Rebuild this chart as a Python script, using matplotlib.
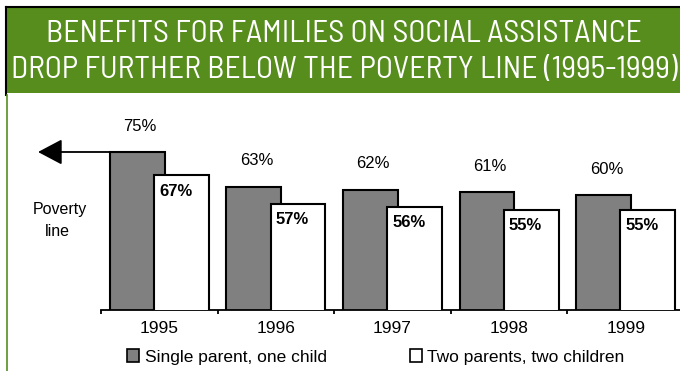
import numpy as np
import matplotlib
matplotlib.use("Agg")
import matplotlib.pyplot as plt
from matplotlib.patches import Rectangle, Patch
from matplotlib.lines import Line2D

plt.rcParams['font.family'] = ['Liberation Sans', 'DejaVu Sans']

# data
years = ['1995', '1996', '1997', '1998', '1999']
single_parent = [75, 63, 62, 61, 60]
two_parents = [67, 57, 56, 55, 55]
series_names = ['Single parent, one child', 'Two parents, two children']
title_lines = ['BENEFITS FOR FAMILIES ON SOCIAL ASSISTANCE',
               'DROP FURTHER BELOW THE POVERTY LINE (1995-1999)']

W, H = 680, 371
fig = plt.figure(figsize=(W / 100, H / 100), dpi=100)

# green title band with dark border
green = '#568D1D'
fig.patches.append(Rectangle((7 / W, 1 - 93 / H), 1, 85 / H, transform=fig.transFigure,
                             facecolor=green, edgecolor='none', zorder=0))
fig.add_artist(Line2D([6 / W, 1], [1 - 7 / H, 1 - 7 / H], transform=fig.transFigure,
                      color='black', lw=1.5))
fig.add_artist(Line2D([6 / W, 6 / W], [1 - 7 / H, 1 - 95 / H], transform=fig.transFigure,
                      color='black', lw=1.5))
fig.add_artist(Line2D([7 / W, 7 / W], [1 - 95 / H, 0], transform=fig.transFigure,
                      color=green, lw=1.2))

title_font = ['Barlow Semi Condensed', 'DejaVu Sans']
fig.text(344 / W, 1 - 34 / H, title_lines[0], color='white', ha='center', va='center',
         fontsize=22.8, family=title_font)
fig.text(344 / W, 1 - 70 / H, title_lines[1], color='white', ha='center', va='center',
         fontsize=22.8, family=title_font)

# chart axes
ax = fig.add_axes([101 / W, 61 / H, 583 / W, 210 / H])
x = np.arange(len(years))
off, bw = 0.19, 0.47
ax.bar(x - off, single_parent, bw, color='#808080', edgecolor='black', linewidth=1.5, zorder=2)
ax.bar(x + off, two_parents, bw, color='white', edgecolor='black', linewidth=1.5, zorder=3)

ax.set_xlim(-0.5, len(years) - 0.5)
ax.set_ylim(20.3, 93)
for s in ['top', 'left', 'right']:
    ax.spines[s].set_visible(False)
ax.spines['bottom'].set_linewidth(1.3)
ax.set_yticks([])
ax.set_xticks(np.arange(-0.5, len(years) + 0.5, 1))
ax.set_xticklabels([])
ax.tick_params(axis='x', which='major', length=3, width=1.3, direction='out')
ax.set_xticks(x, minor=True)
ax.set_xticklabels(years, minor=True, fontsize=12.5)
ax.tick_params(axis='x', which='minor', length=0, pad=8)

for xi, v in zip(x, single_parent):
    ax.annotate(f'{v}%', (xi - off, v), xytext=(2, 18.5), textcoords='offset points',
                ha='center', va='center', fontsize=12)
for xi, v in zip(x, two_parents):
    ax.annotate(f'{v}%', (xi + off - bw / 2, v), xytext=(3.5, -11.5), textcoords='offset points',
                ha='left', va='center', fontsize=12, fontweight='bold', zorder=5)

# poverty line arrow
ax.annotate('', xy=(-1.04, single_parent[0]), xytext=(-off - bw / 2, single_parent[0]),
            annotation_clip=False,
            arrowprops=dict(arrowstyle='-|>,head_length=1.0,head_width=0.53', mutation_scale=15,
                            color='black', lw=1.3, shrinkA=0, shrinkB=0))
fig.text(60 / W, 1 - 209 / H, 'Poverty', ha='center', va='center', fontsize=11.5)
fig.text(57 / W, 1 - 232 / H, 'line', ha='center', va='center', fontsize=11.5)

handles = [Patch(facecolor='#808080', edgecolor='black', linewidth=1.2),
           Patch(facecolor='white', edgecolor='black', linewidth=1.2)]
fig.legend(handles, series_names, loc='center', bbox_to_anchor=(376 / W, 14 / H), ncol=2,
           frameon=False, fontsize=12.5, handlelength=0.7, handleheight=0.7,
           handletextpad=0.3, columnspacing=4.8)

fig.savefig('out.png', dpi=100)
